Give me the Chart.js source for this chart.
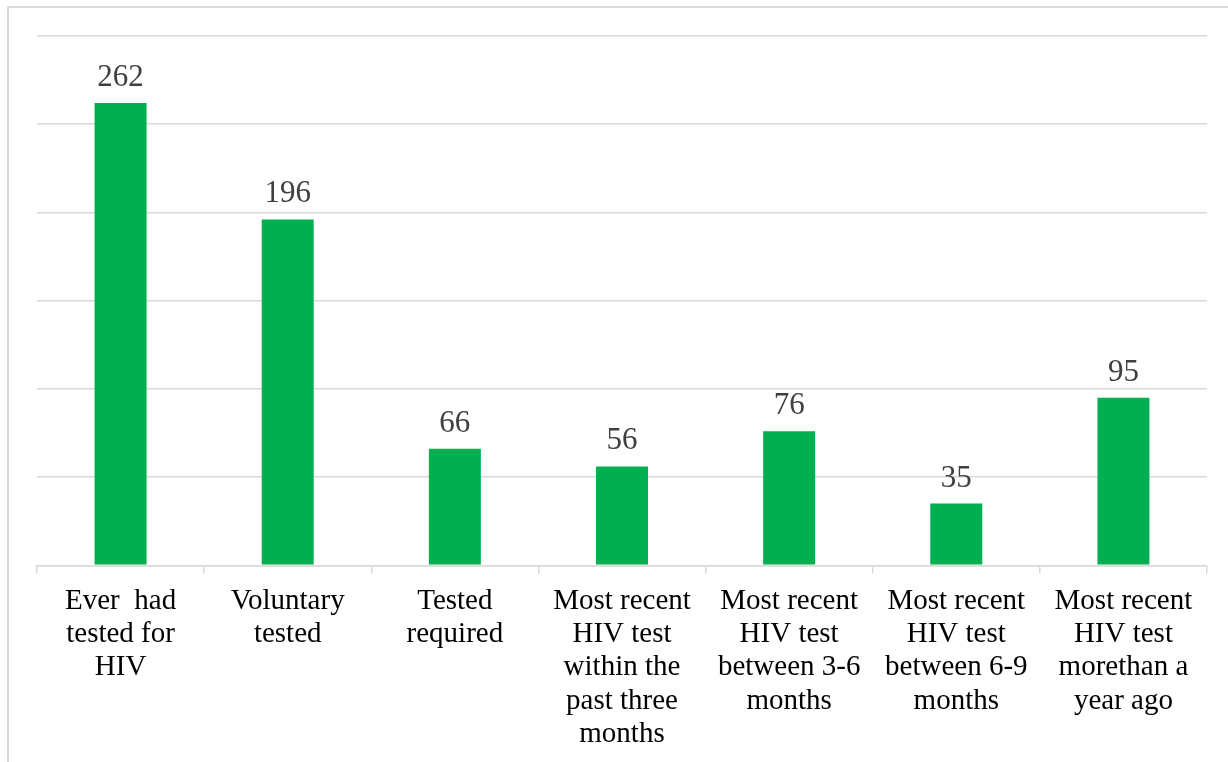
<!DOCTYPE html>
<html>
<head>
<meta charset="utf-8">
<script src="https://cdn.jsdelivr.net/npm/chart.js@4"></script>
<style>
  html, body { margin: 0; padding: 0; background: #fff; overflow: hidden; }
  #wrap { position: relative; width: 1228px; height: 762px; }
  #frame { position: absolute; left: 7px; top: 6px; width: 1300px; height: 800px;
           border-left: 2px solid #d9d9d9; border-top: 2px solid #d9d9d9; box-sizing: border-box; }
  canvas { position: absolute; left: 0; top: 0; }
</style>
</head>
<body>
<div id="wrap">
  <div id="frame"></div>
  <canvas id="c" width="1228" height="762"></canvas>
</div>
<script>
const categories = [
  ["Ever  had", "tested for", "HIV"],
  ["Voluntary", "tested"],
  ["Tested", "required"],
  ["Most recent", "HIV test", "within the", "past three", "months"],
  ["Most recent", "HIV test", "between 3-6", "months"],
  ["Most recent", "HIV test", "between 6-9", "months"],
  ["Most recent", "HIV test", "morethan a", "year ago"]
];
const values = [262, 196, 66, 56, 76, 35, 95];
const yMin = 0, yMax = 300, yStep = 50;

const valueLabels = {
  id: 'valueLabels',
  afterDatasetsDraw(chart) {
    const ctx = chart.ctx;
    const meta = chart.getDatasetMeta(0);
    ctx.save();
    ctx.font = '31px "Liberation Serif", "Times New Roman", serif';
    ctx.fillStyle = '#404040';
    ctx.textAlign = 'center';
    ctx.textBaseline = 'alphabetic';
    meta.data.forEach((bar, i) => {
      ctx.fillText(String(values[i]), bar.x, bar.y - 17);
    });
    ctx.restore();
  }
};

new Chart(document.getElementById('c'), {
  type: 'bar',
  data: {
    labels: categories,
    datasets: [{
      data: values,
      backgroundColor: '#00B050',
      borderWidth: 0,
      barPercentage: 0.311,
      categoryPercentage: 1.0
    }]
  },
  options: {
    responsive: false,
    animation: false,
    events: [],
    layout: { padding: { left: 37, right: 21, top: 36, bottom: 0 } },
    plugins: { legend: { display: false }, tooltip: { enabled: false } },
    scales: {
      x: {
        grid: { display: true, drawOnChartArea: false, drawTicks: true, tickLength: 8, color: '#d9d9d9', lineWidth: 1.5, offset: true },
        border: { display: true, color: '#d9d9d9', width: 1.5 },
        ticks: {
          color: '#000',
          font: { family: '"Liberation Serif", "Times New Roman", serif', size: 29, lineHeight: 1.15 },
          maxRotation: 0, minRotation: 0, autoSkip: false, padding: 11
        }
      },
      y: {
        min: yMin, max: yMax,
        ticks: { display: false, stepSize: yStep },
        grid: { color: '#d9d9d9', lineWidth: 1.5, drawTicks: false },
        border: { display: false }
      }
    }
  },
  plugins: [valueLabels]
});
</script>
</body>
</html>
